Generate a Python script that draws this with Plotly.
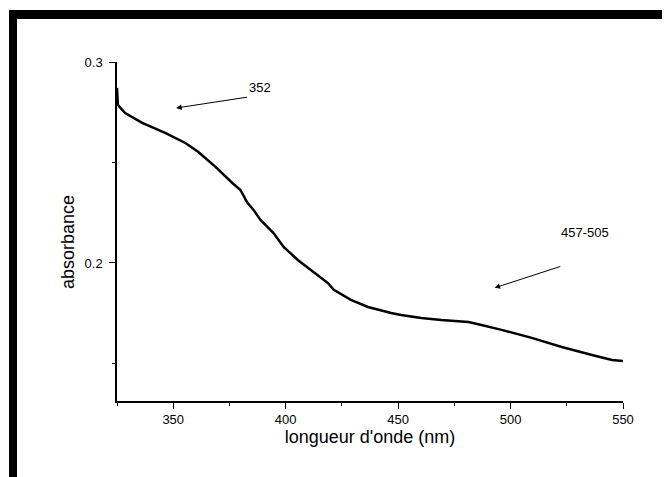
import plotly.graph_objects as go

wavelength = [325.0, 325.4, 328.6, 336.2, 346.4, 355.4, 361.2, 368.8, 376.3, 379.9,
              383.0, 385.7, 388.8, 394.6, 399.1, 405.4, 411.2, 418.8, 421.4, 429.0,
              436.6, 442.4, 446.9, 451.3, 460.3, 469.2, 475.0, 481.3, 487.1, 496.0,
              509.4, 522.8, 536.2, 545.1, 550.0]
absorbance = [0.2871, 0.2786, 0.2746, 0.2697, 0.2647, 0.2597, 0.2552, 0.2478, 0.2398, 0.2363,
              0.2299, 0.2264, 0.2214, 0.2149, 0.2080, 0.2015, 0.1965, 0.1900, 0.1866, 0.1816,
              0.1781, 0.1762, 0.1751, 0.1741, 0.1726, 0.1716, 0.1711, 0.1706, 0.1691, 0.1667,
              0.1627, 0.1582, 0.1542, 0.1517, 0.1512]

x_ticks = [350, 400, 450, 500, 550]
y_ticks = [0.2, 0.3]
y_tick_labels = ["0.2", "0.3"]

peak_labels = ["352", "457-505"]
peak_heads_x = [351.3, 492.9]
peak_heads_y = [0.2771, 0.1876]
peak_tails_x = [383.5, 522.8]
peak_tails_y = [0.2826, 0.1985]
peak_text_x = [388.8, 533.0]
peak_text_y = [0.2871, 0.2154]

fig = go.Figure()
fig.add_trace(go.Scatter(x=wavelength, y=absorbance, mode="lines",
                         line=dict(color="black", width=2.5),
                         showlegend=False, hoverinfo="skip"))

font = dict(family="Liberation Sans, Arial, sans-serif", color="black")

for lab, hx, hy, tx, ty, lx, ly in zip(peak_labels, peak_heads_x, peak_heads_y,
                                        peak_tails_x, peak_tails_y, peak_text_x, peak_text_y):
    fig.add_annotation(x=hx, y=hy, ax=tx, ay=ty, xref="x", yref="y", axref="x", ayref="y",
                       text="", showarrow=True, arrowhead=2, arrowsize=1.1, arrowwidth=1,
                       arrowcolor="black")
    fig.add_annotation(x=lx, y=ly, xref="x", yref="y", text=lab, showarrow=False,
                       font=dict(size=13, **font))

fig.add_annotation(x=-0.0968, y=0.469, xref="paper", yref="paper", text="absorbance",
                   textangle=-90, showarrow=False, xanchor="center", yanchor="middle",
                   font=dict(size=18, **font))

fig.update_layout(
    width=662, height=469,
    margin=dict(l=109, r=47, t=54, b=76),
    paper_bgcolor="white", plot_bgcolor="white",
    font=dict(size=13, **font),
    xaxis=dict(range=[325, 550], tickvals=x_ticks, ticks="outside", ticklen=6, tickwidth=1.3,
               tickcolor="black", showline=True, linecolor="black", linewidth=1.5,
               showgrid=False, zeroline=False,
               minor=dict(dtick=25, tick0=325, ticks="outside", ticklen=3, tickcolor="black", showgrid=False),
               title=dict(text="longueur d'onde (nm)", font=dict(size=18, **font), standoff=1),
               tickfont=dict(size=13, **font)),
    yaxis=dict(range=[0.1313, 0.3], tickvals=y_ticks, ticktext=y_tick_labels, ticks="outside",
               ticklen=6, tickwidth=1.3, tickcolor="black", showline=True, linecolor="black",
               linewidth=1.5, showgrid=False, zeroline=False, ticklabelstandoff=4,
               minor=dict(tickvals=[0.15, 0.25], ticks="outside", ticklen=3, tickcolor="black", showgrid=False),
               tickfont=dict(size=13, **font)),
    shapes=[
        dict(type="rect", xref="paper", yref="paper", x0=-0.2134, x1=1.0929, y0=1.1268, y1=1.1534,
             fillcolor="black", line=dict(width=0)),
        dict(type="rect", xref="paper", yref="paper", x0=-0.2134, x1=-0.1976, y0=-0.2242, y1=1.1534,
             fillcolor="black", line=dict(width=0)),
    ],
)

fig.write_html("out.html")
